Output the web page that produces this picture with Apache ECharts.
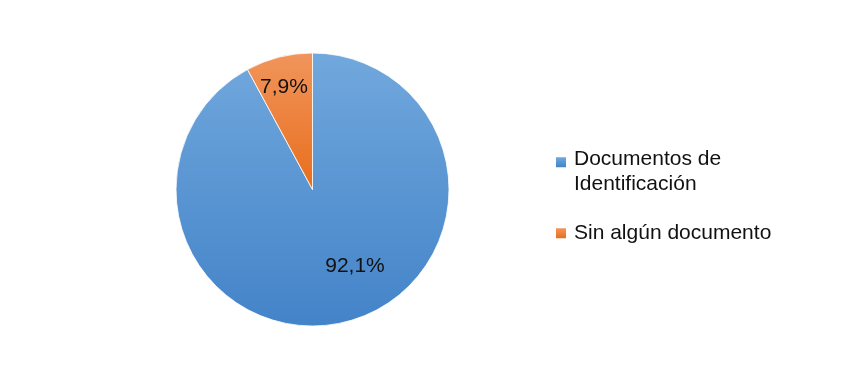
<!DOCTYPE html>
<html>
<head>
<meta charset="utf-8">
<script src="https://cdn.jsdelivr.net/npm/echarts@6/dist/echarts.min.js"></script>
<style>
  html, body { margin: 0; padding: 0; background: #ffffff; }
  #chart { width: 851px; height: 375px; }
</style>
</head>
<body>
<div id="chart"></div>
<script>
// Data
const categories = ['Documentos de Identificación', 'Sin algún documento'];
const values = [92.1, 7.9];
const valueLabels = ['92,1%', '7,9%'];

// Styling (not data)
const gradients = [
  ['#71a8dd', '#4383c8'],
  ['#f1955c', '#e86e1c']
];
const labelShift = [[25, 8], [-11, -33]];

const chart = echarts.init(document.getElementById('chart'), null, { renderer: 'canvas' });

const font = '"Liberation Sans", Arial, sans-serif';

chart.setOption({
  backgroundColor: '#ffffff',
  animation: false,
  legend: {
    orient: 'vertical',
    left: 556,
    top: 128.5,
    padding: 0,
    itemWidth: 10,
    itemHeight: 10,
    itemGap: 25,
    icon: 'rect',
    selectedMode: false,
    itemStyle: { borderWidth: 0, borderColor: 'rgba(0,0,0,0)' },
    textStyle: {
      fontFamily: font,
      fontSize: 21,
      color: '#111111',
      lineHeight: 24.5,
      padding: [0, 0, 0, 3],
      rich: {
        sp: { fontSize: 4, lineHeight: 18.5 },
        t: { fontFamily: font, fontSize: 21, color: '#111111', lineHeight: 24.5 }
      }
    },
    formatter: function (name) {
      return name === categories[0] ? '{sp| }\n{t|Documentos de}\n{t|Identificación}' : name;
    },
    data: categories
  },
  series: [{
    type: 'pie',
    center: [312.5, 189.5],
    radius: 136.5,
    startAngle: 90,
    clockwise: true,
    silent: true,
    labelLine: { show: false },
    label: {
      show: true,
      position: 'inside',
      fontFamily: font,
      fontSize: 21,
      color: '#111111',
      formatter: function (p) { return valueLabels[p.dataIndex]; }
    },
    labelLayout: function (p) {
      return { dx: labelShift[p.dataIndex][0], dy: labelShift[p.dataIndex][1] };
    },
    itemStyle: { borderColor: '#ffffff', borderWidth: 0.8 },
    data: categories.map(function (c, i) {
      return {
        name: c,
        value: values[i],
        itemStyle: {
          color: new echarts.graphic.LinearGradient(0, 0, 0, 1, [
            { offset: 0, color: gradients[i][0] },
            { offset: 1, color: gradients[i][1] }
          ])
        }
      };
    })
  }]
});
</script>
</body>
</html>
